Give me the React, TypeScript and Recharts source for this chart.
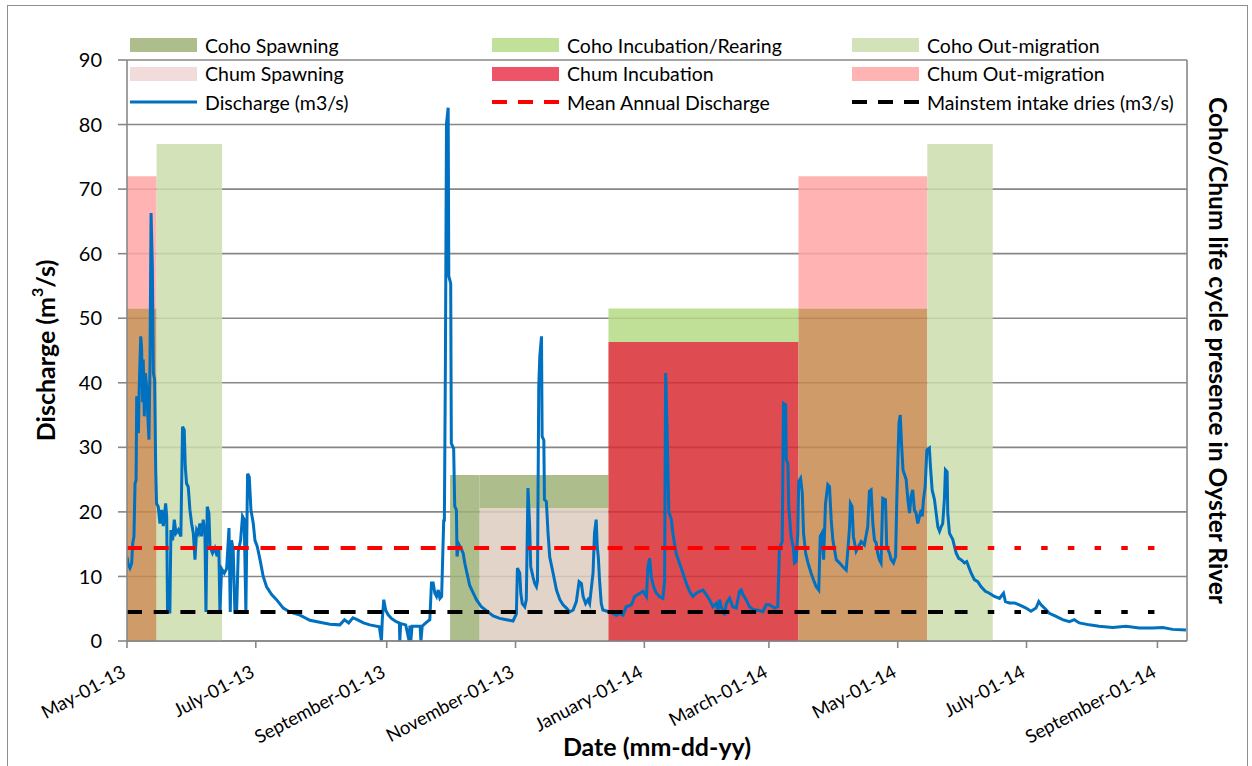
import {
  ComposedChart,
  Line,
  XAxis,
  YAxis,
  CartesianGrid,
  ReferenceArea,
} from "recharts";

const START = Date.UTC(2013, 4, 1);

function dayOf(iso: string): number {
  const [y, m, d] = iso.split("-").map(Number);
  return Math.round((Date.UTC(y, m - 1, d) - START) / 86400000);
}

// x axis
const TICK_DATES = [
  "2013-05-01",
  "2013-07-01",
  "2013-09-01",
  "2013-11-01",
  "2014-01-01",
  "2014-03-01",
  "2014-05-01",
  "2014-07-01",
  "2014-09-01",
];
const TICK_LABELS = [
  "May-01-13",
  "July-01-13",
  "September-01-13",
  "November-01-13",
  "January-01-14",
  "March-01-14",
  "May-01-14",
  "July-01-14",
  "September-01-14",
];
const X_END_DATE = "2014-09-15";
const Y_TICKS = [0, 10, 20, 30, 40, 50, 60, 70, 80, 90];

// reference levels (m3/s)
const MEAN_ANNUAL_DISCHARGE = 14.4;
const INTAKE_DRIES = 4.5;
const LEVEL_DATES = ["2013-05-01", "2014-05-31", "2014-09-07"];

// life cycle presence blocks
const PRESENCE_STAGE = [
  "chumOut",
  "overlap",
  "cohoOut",
  "cohoSpawn",
  "cohoSpawn",
  "chumSpawn",
  "rearing",
  "chumInc",
  "chumOut",
  "overlap",
  "cohoOut",
];
const PRESENCE_FROM = [
  "2013-05-01",
  "2013-05-01",
  "2013-05-15",
  "2013-10-01",
  "2013-10-15",
  "2013-10-15",
  "2013-12-15",
  "2013-12-15",
  "2014-03-15",
  "2014-03-15",
  "2014-05-15",
];
const PRESENCE_TO = [
  "2013-05-15",
  "2013-05-15",
  "2013-06-15",
  "2013-10-15",
  "2013-12-15",
  "2013-12-15",
  "2014-03-15",
  "2014-03-15",
  "2014-05-15",
  "2014-05-15",
  "2014-06-15",
];
const PRESENCE_LOW = [51.5, 0, 0, 0, 20.6, 0, 46.3, 0, 51.5, 0, 0];
const PRESENCE_HIGH = [72, 51.5, 77, 25.7, 25.7, 20.6, 51.5, 46.3, 72, 51.5, 77];

// daily discharge, [days since May-01-13, m3/s]
const DISCHARGE: [number, number][] = [
  [0, 13.0], [0.6, 11.8], [1.4, 11.3], [2.2, 12.0], [2.7, 15.1], [3.3, 16.2],
  [3.8, 24.4], [4.3, 24.9], [4.6, 37.9], [5.0, 37.4], [5.4, 32.2], [5.8, 39.4],
  [6.5, 47.2], [6.9, 45.6], [7.4, 37.0], [7.7, 43.6], [8.2, 34.8], [8.7, 41.5],
  [9.3, 39.4], [9.8, 35.3], [10.4, 31.2], [10.9, 43.6], [11.4, 66.3], [12.0, 58.0],
  [12.5, 41.5], [13.1, 40.5], [13.6, 26.5], [14.0, 21.3], [14.8, 20.8], [15.6, 18.2],
  [16.4, 20.3], [17.2, 17.8], [18.3, 21.3], [18.8, 19.3], [19.2, 4.5], [20.3, 4.5],
  [20.8, 17.2], [21.6, 15.6], [22.4, 18.8], [23.2, 16.7], [24.3, 17.2], [25.5, 16.2],
  [26.3, 33.2], [27.1, 32.7], [27.6, 27.0], [28.2, 24.4], [29.0, 23.9], [29.8, 20.3],
  [30.6, 18.2], [31.4, 16.7], [32.2, 12.6], [33.0, 17.2], [33.8, 16.7], [34.5, 18.2],
  [35.3, 16.2], [36.1, 18.8], [36.9, 16.7], [37.4, 4.5], [38.0, 20.8], [38.8, 19.8],
  [39.3, 14.6], [40.5, 13.6], [41.6, 14.4], [42.7, 13.1], [43.5, 14.6], [44.0, 4.5],
  [44.8, 11.2], [46.1, 10.5], [47.2, 11.2], [48.3, 17.5], [48.9, 4.5], [49.5, 15.6],
  [50.3, 14.1], [51.1, 4.5], [51.9, 4.5], [52.7, 13.9], [53.8, 15.6], [54.7, 19.3],
  [55.5, 18.8], [56.3, 4.5], [57.1, 25.9], [57.9, 25.4], [58.7, 20.3], [59.8, 18.2],
  [60.6, 15.6], [61.7, 14.6], [63.0, 12.6], [64.5, 10.0], [66.1, 8.4], [68.5, 7.2],
  [70.8, 6.4], [74.0, 5.1], [77.1, 4.5], [81.9, 4.0], [86.6, 3.2], [91.3, 2.9],
  [96.1, 2.6], [100.8, 2.5], [103, 3.3], [105, 2.8], [107, 3.6], [109, 3.3],
  [112, 2.8], [115, 2.5], [119.5, 2.2], [120.5, 0], [120.9, 3.3], [121.6, 6.4],
  [122.5, 4.8], [123.6, 4.1], [125.2, 3.5], [127.5, 3.0], [129.0, 2.8], [129.2, 0],
  [129.6, 2.7], [132, 2.5], [133.6, 0], [134.0, 2.4], [134.4, 0], [135, 2.3],
  [138.8, 2.3], [139.2, 0], [139.8, 2.3], [141.5, 2.8], [143.4, 3.3], [144.2, 9.0],
  [145.0, 9.0], [145.8, 7.4], [146.6, 6.9], [147.4, 7.9], [148.2, 6.6], [149.0, 6.9],
  [150.0, 18.8], [150.3, 18.5], [150.8, 43.5], [151.3, 80.1], [152.1, 82.6], [152.4, 56.5],
  [153.3, 55.4], [153.6, 30.6], [154.7, 29.8], [155.2, 20.9], [156.0, 20.3], [156.3, 13.1],
  [157.1, 15.0], [158.4, 14.2], [159.2, 13.6], [160.0, 12.0], [160.8, 10.8], [162.3, 8.6],
  [163.9, 7.5], [165.5, 6.4], [167.8, 5.3], [170.2, 4.7], [173.4, 3.9], [176.5, 3.5],
  [179.7, 3.3], [182.8, 3.1], [184.4, 4.2], [184.9, 11.3], [186.0, 10.5], [186.5, 7.4],
  [187.2, 5.8], [188.4, 5.3], [189.1, 6.4], [189.9, 23.7], [190.7, 17.7], [191.2, 11.5],
  [192.3, 9.9], [193.1, 8.9], [193.9, 8.4], [194.4, 9.3], [195.0, 39.4], [195.5, 44.1],
  [196.3, 47.2], [196.6, 31.7], [197.4, 31.1], [197.7, 21.9], [198.6, 21.6], [199.4, 16.7],
  [200.2, 13.0], [201.8, 10.5], [203.4, 7.9], [205.0, 6.4], [206.5, 5.6], [208.1, 5.1],
  [209.7, 4.5], [211.3, 4.8], [212.8, 6.1], [214.1, 9.2], [215.2, 8.9], [216.0, 6.9],
  [217.2, 5.8], [218.3, 6.4], [219.1, 5.8], [220.7, 10.5], [221.4, 16.7], [222.2, 18.8],
  [222.7, 14.6], [223.2, 13.0], [223.8, 9.4], [224.6, 5.8], [225.4, 4.8], [228.6, 4.5],
  [231.8, 4.0], [233.3, 4.3], [234.9, 4.0], [236.4, 5.3], [238.9, 5.6], [240.4, 6.9],
  [242.9, 7.4], [244.4, 7.7], [246.0, 6.9], [246.7, 11.5], [247.5, 12.8], [248.3, 9.9],
  [249.4, 8.4], [250.7, 7.4], [252.2, 6.9], [253.8, 6.6], [254.6, 9.4], [255.1, 41.5],
  [255.7, 33.7], [256.6, 20.0], [257.8, 18.8], [258.5, 16.7], [260.1, 13.5], [261.7, 12.0],
  [263.3, 10.5], [264.9, 8.9], [266.4, 7.7], [268.0, 6.9], [269.6, 7.4], [271.2, 7.7],
  [272.8, 7.9], [274.3, 7.2], [275.9, 6.4], [277.5, 5.3], [279.0, 5.8], [279.9, 4.8],
  [280.6, 6.4], [281.4, 5.3], [282.2, 4.8], [283.0, 4.0], [283.8, 5.8], [285.4, 6.6],
  [286.9, 5.3], [288.5, 5.1], [290.1, 7.7], [290.9, 7.9], [291.7, 7.2], [293.2, 6.4],
  [294.8, 5.3], [296.4, 4.9], [299.6, 4.7], [301.1, 4.5], [302.7, 5.6], [304.3, 5.6],
  [306.7, 5.1], [308.2, 5.3], [309.0, 14.4], [310.3, 15.4], [310.9, 36.8], [311.9, 36.6],
  [312.2, 28.1], [313.0, 27.5], [313.4, 20.8], [314.5, 16.2], [315.6, 14.4], [316.1, 12.1],
  [316.9, 12.3], [317.7, 16.7], [318.1, 24.7], [319.0, 25.2], [319.8, 22.9], [320.4, 16.7],
  [321.4, 13.6], [322.5, 12.1], [324.0, 10.5], [325.1, 9.5], [326.4, 8.4], [327.6, 7.9],
  [328.3, 16.2], [329.1, 16.7], [329.9, 12.6], [330.8, 21.3], [331.9, 24.2], [332.7, 23.9],
  [333.5, 18.8], [334.3, 15.6], [335.9, 12.6], [337.4, 12.1], [339.0, 11.5], [340.6, 11.0],
  [341.4, 14.1], [342.2, 17.7], [342.6, 21.3], [343.4, 20.8], [344.0, 16.2], [345.3, 13.9],
  [346.1, 14.4], [347.7, 15.4], [349.2, 14.9], [350.8, 17.7], [351.6, 23.2], [352.4, 23.4],
  [353.2, 18.3], [354.0, 15.6], [354.8, 15.2], [355.5, 13.6], [356.3, 12.6], [357.1, 12.1],
  [357.9, 22.1], [359.2, 21.9], [359.8, 14.6], [361.1, 13.6], [361.9, 12.6], [363.0, 12.1],
  [364.0, 13.1], [364.6, 22.4], [365.6, 33.8], [366.2, 35.0], [366.8, 30.6], [367.5, 26.5],
  [369.0, 25.0], [369.8, 21.9], [370.6, 19.8], [371.3, 22.4], [372.1, 23.4], [372.9, 20.3],
  [373.7, 19.8], [374.5, 18.2], [375.3, 19.3], [376.1, 20.3], [376.6, 19.3], [377.2, 21.9],
  [378.0, 23.9], [378.8, 29.6], [380.0, 29.9], [380.5, 27.0], [381.3, 23.4], [382.4, 21.9],
  [383.2, 19.8], [384.0, 17.7], [384.8, 17.0], [385.6, 17.7], [386.3, 18.2], [387.1, 21.9],
  [387.6, 26.5], [388.4, 26.2], [388.7, 19.8], [389.5, 16.7], [390.3, 16.2], [391.1, 15.7],
  [391.9, 14.6], [392.7, 13.6], [393.9, 12.8], [395.0, 12.6], [396.6, 12.1], [397.7, 12.3],
  [398.6, 11.5], [399.8, 10.5], [401.3, 9.5], [402.9, 9.2], [404.5, 8.4], [406.5, 7.7],
  [408.4, 7.4], [410.8, 6.9], [413.2, 6.6], [415.1, 7.4], [416.0, 6.1], [417.9, 5.9],
  [420.3, 5.9], [422.6, 5.6], [425.8, 5.1], [428.1, 4.6], [430.5, 5.1], [431.8, 6.1],
  [432.9, 5.6], [434.5, 5.1], [436.8, 4.3], [440.0, 3.8], [443.1, 3.3], [446.3, 3.0],
  [448.6, 3.3], [451.0, 2.8], [455.7, 2.5], [460.4, 2.3], [466.8, 2.1], [473.1, 2.3],
  [479.4, 2.0], [485.7, 2.0], [490.5, 2.1], [495.2, 1.8], [501.5, 1.7],
];

const LEGEND_LABELS = [
  "Coho Spawning",
  "Coho Incubation/Rearing",
  "Coho Out-migration",
  "Chum Spawning",
  "Chum Incubation",
  "Chum Out-migration",
  "Discharge (m3/s)",
  "Mean Annual Discharge",
  "Mainstem intake dries (m3/s)",
];

// styles
const FONT = "Lato, 'Open Sans', sans-serif";
const AXIS_GRAY = "#878787";
const AREA_OPACITY = 0.85;
const STAGE_FILL: Record<string, string> = {
  chumOut: "#FFA6A6",
  overlap: "#C78A4F",
  cohoOut: "#CCDDAE",
  cohoSpawn: "#9FB378",
  chumSpawn: "#DDCCBE",
  rearing: "#B5DA86",
  chumInc: "#D82C31",
};
const LEGEND_SWATCH = [
  { kind: "box", color: "#ADBE8C" },
  { kind: "box", color: "#C1E09A" },
  { kind: "box", color: "#D4E2BA" },
  { kind: "box", color: "#F2DCDB" },
  { kind: "box", color: "#EE5467" },
  { kind: "box", color: "#FFB3B3" },
  { kind: "line", color: "#0070C0" },
  { kind: "dash", color: "#FF0000" },
  { kind: "dash", color: "#000000" },
];
const LEGEND_COLS = [130, 492, 852];
const LEGEND_ROWS = [45, 73.5, 102];

const TICK_DAYS = TICK_DATES.map(dayOf);
const END_DAY = dayOf(X_END_DATE);
const LEVEL_DAYS = LEVEL_DATES.map(dayOf);

const dischargeData = DISCHARGE.map(([day, q]) => ({ day, q }));
const levelData = (value: number, a: number, b: number) => [
  { day: LEVEL_DAYS[a], v: value },
  { day: LEVEL_DAYS[b], v: value },
];

function DateTick({ x, y, payload }: any) {
  const label = TICK_LABELS[TICK_DAYS.indexOf(payload.value)] ?? "";
  return (
    <g transform={`translate(${x},${y + 26})`}>
      <text
        textAnchor="end"
        transform="rotate(-28)"
        fontSize={18.5}
        fontFamily={FONT}
        fill="#000"
      >
        {label}
      </text>
    </g>
  );
}

function LeftTitle({ viewBox }: any) {
  const cx = viewBox.x + 45;
  const cy = viewBox.y + viewBox.height / 2;
  return (
    <text
      x={cx}
      y={cy}
      transform={`rotate(-90 ${cx} ${cy})`}
      textAnchor="middle"
      dominantBaseline="central"
      fontSize={25}
      fontWeight="bold"
      fontFamily={FONT}
      fill="#000"
    >
      Discharge (m<tspan fontSize={16} dy={-9}>3</tspan>
      <tspan dy={9}>/s)</tspan>
    </text>
  );
}

function RightTitle({ viewBox }: any) {
  const cx = viewBox.x + 31;
  const cy = viewBox.y + viewBox.height / 2;
  return (
    <text
      x={cx}
      y={cy}
      transform={`rotate(90 ${cx} ${cy})`}
      textAnchor="middle"
      dominantBaseline="central"
      fontSize={24.5}
      fontWeight="bold"
      fontFamily={FONT}
      fill="#000"
    >
      Coho/Chum life cycle presence in Oyster River
    </text>
  );
}

function BottomTitle({ viewBox }: any) {
  const cx = viewBox.x + viewBox.width / 2;
  const cy = viewBox.y + 105;
  return (
    <text
      x={cx}
      y={cy}
      textAnchor="middle"
      dominantBaseline="central"
      fontSize={25}
      fontWeight="bold"
      fontFamily={FONT}
      fill="#000"
    >
      Date (mm-dd-yy)
    </text>
  );
}

function LegendOverlay() {
  return (
    <>
      {LEGEND_LABELS.map((label, i) => {
        const sw = LEGEND_SWATCH[i];
        const left = LEGEND_COLS[i % 3];
        const cy = LEGEND_ROWS[Math.floor(i / 3)];
        return (
          <div
            key={label}
            style={{
              position: "absolute",
              left,
              top: cy - 14,
              height: 28,
              display: "flex",
              alignItems: "center",
              whiteSpace: "nowrap",
            }}
          >
            <svg width={67} height={14} style={{ marginRight: 8 }}>
              {sw.kind === "box" && (
                <rect x={0} y={0} width={67} height={14} fill={sw.color} />
              )}
              {sw.kind === "line" && (
                <line x1={0} x2={67} y1={7} y2={7} stroke={sw.color} strokeWidth={3} />
              )}
              {sw.kind === "dash" && (
                <line
                  x1={0}
                  x2={67}
                  y1={7}
                  y2={7}
                  stroke={sw.color}
                  strokeWidth={4}
                  strokeDasharray="15 11"
                />
              )}
            </svg>
            <span style={{ fontSize: 19.5, color: "#000" }}>{label}</span>
          </div>
        );
      })}
    </>
  );
}

export default function App() {
  return (
    <div
      style={{
        position: "absolute",
        left: 0,
        top: 0,
        width: 1252,
        height: 766,
        overflow: "hidden",
        background: "#fff",
        fontFamily: FONT,
      }}
    >
      <div
        style={{
          position: "absolute",
          left: 7,
          top: 5,
          width: 1239,
          height: 780,
          border: "1px solid #8e8e8e",
        }}
      />
      <div style={{ position: "absolute", left: 0, top: 0 }}>
        <ComposedChart
          width={1252}
          height={766}
          data={dischargeData}
          margin={{ top: 60, right: 0, bottom: 0, left: 0 }}
        >
          <CartesianGrid
            vertical={false}
            stroke={AXIS_GRAY}
            strokeWidth={1.6}
          />
          {PRESENCE_STAGE.map((stage, i) => (
            <ReferenceArea
              key={`area-${i}`}
              x1={dayOf(PRESENCE_FROM[i])}
              x2={dayOf(PRESENCE_TO[i])}
              y1={PRESENCE_LOW[i]}
              y2={PRESENCE_HIGH[i]}
              fill={STAGE_FILL[stage]}
              fillOpacity={AREA_OPACITY}
              stroke="none"
            />
          ))}
          <XAxis
            type="number"
            dataKey="day"
            domain={[0, END_DAY]}
            ticks={TICK_DAYS}
            interval={0}
            allowDataOverflow
            height={125}
            tick={<DateTick />}
            tickSize={7}
            axisLine={{ stroke: AXIS_GRAY, strokeWidth: 1.6 }}
            tickLine={{ stroke: AXIS_GRAY, strokeWidth: 1.6 }}
            label={<BottomTitle />}
          />
          <YAxis
            domain={[0, 90]}
            ticks={Y_TICKS}
            interval={0}
            width={127}
            tickSize={9}
            tickMargin={16}
            tick={{ fill: "#000", fontSize: 20, fontFamily: FONT }}
            axisLine={{ stroke: AXIS_GRAY, strokeWidth: 1.6 }}
            tickLine={{ stroke: AXIS_GRAY, strokeWidth: 1.6 }}
            label={<LeftTitle />}
          />
          <YAxis
            yAxisId="presence"
            orientation="right"
            domain={[0, 90]}
            width={65}
            tick={false}
            tickLine={false}
            axisLine={{ stroke: AXIS_GRAY, strokeWidth: 1.6 }}
            label={<RightTitle />}
          />
          <Line
            type="linear"
            dataKey="q"
            stroke="#0070C0"
            strokeWidth={3}
            dot={false}
            activeDot={false}
            isAnimationActive={false}
          />
          <Line
            data={levelData(MEAN_ANNUAL_DISCHARGE, 0, 1)}
            dataKey="v"
            stroke="#FF0000"
            strokeWidth={4}
            strokeDasharray="15 11.7"
            dot={false}
            activeDot={false}
            isAnimationActive={false}
          />
          <Line
            data={levelData(MEAN_ANNUAL_DISCHARGE, 1, 2)}
            dataKey="v"
            stroke="#FF0000"
            strokeWidth={4}
            strokeDasharray="6.5 20.2"
            dot={false}
            activeDot={false}
            isAnimationActive={false}
          />
          <Line
            data={levelData(INTAKE_DRIES, 0, 1)}
            dataKey="v"
            stroke="#000000"
            strokeWidth={4}
            strokeDasharray="15 11.7"
            dot={false}
            activeDot={false}
            isAnimationActive={false}
          />
          <Line
            data={levelData(INTAKE_DRIES, 1, 2)}
            dataKey="v"
            stroke="#000000"
            strokeWidth={4}
            strokeDasharray="6.5 20.2"
            dot={false}
            activeDot={false}
            isAnimationActive={false}
          />
        </ComposedChart>
      </div>
      <LegendOverlay />
    </div>
  );
}
